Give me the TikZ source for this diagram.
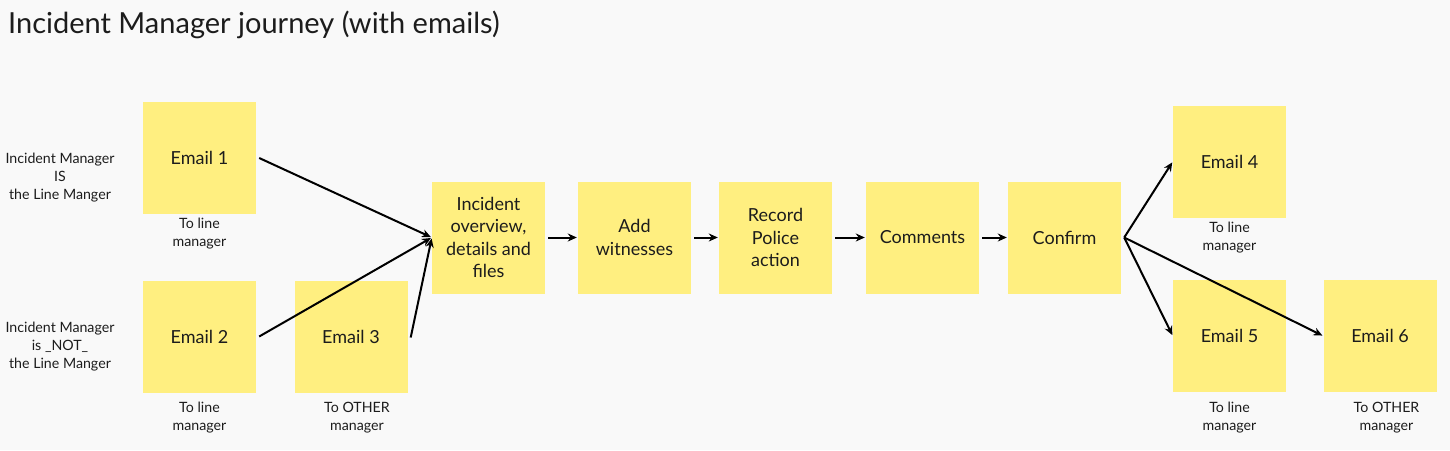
\documentclass[tikz,border=0pt]{standalone}
\usepackage{fontspec}
\setmainfont{Lato}
\usetikzlibrary{arrows.meta}
\definecolor{bgc}{HTML}{F9F9F9}
\definecolor{sticky}{HTML}{FFEF80}
\definecolor{ink}{HTML}{1C1C1C}
\tikzset{
  note/.style={fill=sticky, minimum width=113pt, minimum height=112pt, inner sep=2pt,
    align=center, text=ink, font=\fontsize{18}{22.6}\selectfont},
  sublabel/.style={align=center, text=ink, font=\fontsize{14.2}{18}\selectfont, inner sep=0pt},
  flow/.style={line width=2pt, black, -{Stealth[length=9pt,width=8pt]}, shorten >=1pt},
}
\begin{document}
\begin{tikzpicture}[x=1pt,y=-1pt]
\useasboundingbox (0,0) rectangle (1450,450);
\fill[bgc] (0,0) rectangle (1450,450);
\node[anchor=base west, inner sep=0pt, text=ink, font=\fontsize{29}{32}\selectfont] (title) at (8,33) {Incident Manager journey (with emails)};

\node[sublabel] (l1) at (60,178) {Incident Manager\\IS\\the Line Manger};
\node[sublabel] (l2) at (60,347) {Incident Manager\\is \_NOT\_\\the Line Manger};

\node[note] (e1) at (199.5,158) {Email 1};
\node[note] (e2) at (199.5,336.5) {Email 2};
\node[note] (e3) at (351,336.5) {Email 3};
\node[note] (inc) at (488.5,237.5) {Incident\\overview,\\details and\\files};
\node[note] (add) at (634.5,237.5) {Add\\witnesses};
\node[note] (rec) at (775.5,237.5) {Record\\Police\\action};
\node[note] (com) at (922.5,237.5) {Comments};
\node[note] (conf) at (1064.5,237.5) {Confirm};
\node[note] (e4) at (1229.5,161.5) {Email 4};
\node[note] (e5) at (1229.5,336) {Email 5};
\node[note] (e6) at (1380,336) {Email 6};

\node[sublabel] (c1) at (199.5,234) {To line\\manager};
\node[sublabel] (c2) at (199.5,417.5) {To line\\manager};
\node[sublabel] (c3) at (357,417.5) {To OTHER\\manager};
\node[sublabel] (c4) at (1229.5,238) {To line\\manager};
\node[sublabel] (c5) at (1229.5,417.5) {To line\\manager};
\node[sublabel] (c6) at (1386.5,417.5) {To OTHER\\manager};

\draw[flow] ([xshift=3pt]e1.east) -- (inc.west);
\draw[flow] ([xshift=3pt]e2.east) -- (inc.west);
\draw[flow] ([xshift=3pt,yshift=-1pt]e3.east) -- (inc.west);
\draw[flow, shorten <=3pt] (inc.east) -- (add.west);
\draw[flow, shorten <=3pt] (add.east) -- (rec.west);
\draw[flow, shorten <=3pt] (rec.east) -- (com.west);
\draw[flow, shorten <=3pt] (com.east) -- (conf.west);
\coordinate (cf) at ([xshift=3pt]conf.east);
\draw[flow] (cf) -- (e4.west);
\draw[flow] (cf) -- (e5.west);
\draw[flow] (cf) -- (e6.west);
\end{tikzpicture}
\end{document}
